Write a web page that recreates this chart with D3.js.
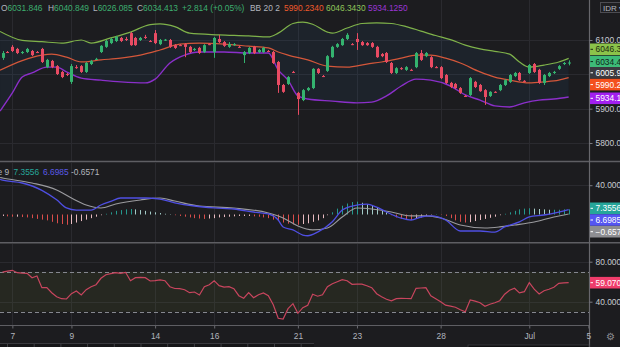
<!DOCTYPE html>
<html><head><meta charset="utf-8">
<script src="https://cdn.jsdelivr.net/npm/d3@7"></script>
<style>
html,body{margin:0;padding:0;background:#1c1c1f;overflow:hidden}
svg{display:block}
text{font-family:"Liberation Sans",Arial,sans-serif}
</style></head><body>
<svg id="c" width="620" height="347"></svg>
<script>
// ---------------- DATA ----------------
const opens = [6048,6065,6080,6074,6062,6065,6068,6065,6074,6021,
6039,6024,6007,6001,5978,6021,6024,6007,6030,6043,
6065,6080,6091,6097,6106,6103,6120,6106,6100,6109,
6097,6120,6088,6100,6100,6085,6085,6088,6080,6071,
6077,6065,6088,6065,6103,6094,6080,6085,6080,6056,
6062,6080,6065,6065,6068,6065,6036,5969,5972,6007,
5946,5925,5954,5960,6016,5995,6010,6050,6080,6085,
6103,6088,6103,6094,6091,6091,6080,6059,6062,6033,
6004,6018,6013,6013,6021,6062,6053,6050,6021,6021,
5998,5975,5972,5960,5937,5940,5978,5969,5954,5937,
5949,5954,5969,5978,5995,6004,5981,6004,6030,6013,
5975,5995,6004,6016,6030,6031.846];
const closes = [6062,6064,6068,6062,6065,6074,6056,6064,6036,6042,
6021,6001,5992,5999,6024,6020,6007,6033,6039,6045,
6083,6097,6103,6109,6097,6102,6085,6085,6106,6106,
6096,6091,6100,6101,6080,6077,6084,6080,6065,6074,
6062,6085,6087,6106,6094,6083,6088,6088,6079,6065,
6077,6062,6071,6077,6067,6033,5969,5949,5992,6006,
5928,5954,5960,6016,6004,5994,6053,6080,6088,6103,
6115,6087,6094,6085,6085,6080,6050,6053,6036,6004,
6018,6017,6021,6012,6062,6042,6062,6021,6020,5989,
5975,5963,5960,5946,5936,5989,5963,5951,5934,5949,
5948,5969,5983,5998,6004,5983,5980,6027,6007,5975,
5998,6004,6007,6024,6033,6034.413];
const highs = [6068,6068,6085,6077,6068,6077,6071,6068,6077,6045,
6042,6027,6010,6004,6030,6027,6027,6036,6042,6048,
6085,6100,6106,6112,6109,6109,6123,6109,6109,6115,
6100,6129,6103,6103,6103,6088,6088,6091,6083,6077,
6080,6088,6091,6109,6115,6097,6094,6091,6083,6068,
6080,6083,6074,6080,6071,6068,6039,5972,5995,6010,
5949,5957,5963,6018,6018,5998,6056,6083,6091,6106,
6120,6091,6120,6097,6094,6094,6083,6062,6065,6036,
6021,6021,6024,6016,6065,6071,6065,6053,6024,6024,
6001,5978,5975,5963,5940,5992,5981,5972,5957,5951,
5951,5972,5986,6001,6007,6007,5983,6030,6033,6016,
6001,6007,6010,6027,6036,6040.849];
const lows = [6042,6062,6065,6059,6059,6062,6053,6062,6033,6018,
6018,5998,5989,5995,5972,6016,6004,6004,6027,6042,
6062,6077,6088,6094,6094,6097,6083,6083,6097,6103,
6094,6088,6085,6097,6077,6074,6083,6050,6062,6068,
6059,6062,6085,6048,6091,6080,6077,6083,6077,6033,
6059,6059,6062,6062,6065,6030,5946,5946,5969,6004,
5882,5922,5951,5957,6001,5992,6007,6048,6077,6083,
6100,6085,6071,6083,6083,6077,6048,6050,6033,6001,
6001,6013,6010,6010,6018,6039,6050,6018,6018,5986,
5972,5960,5957,5943,5934,5937,5960,5949,5911,5934,
5946,5951,5966,5975,5992,5981,5978,6001,6004,5972,
5969,5992,6001,6013,6027,6026.085];

// Bollinger bands, read as [candle index, price]
const bbUpper = [[-0.5,6125],[4,6099],[8,6095],[12,6091],[16,6100],[18,6091],[22,6106],[26,6123],[30,6145],[32,6147],[35,6139],[38,6120],[44,6115],[50,6112],[54,6109],[56,6120],[59,6148],[61,6152],[63,6146],[66,6123],[67,6120],[70,6135],[73,6148],[76,6150],[79,6148],[82,6139],[85,6126],[88,6113],[91,6101],[94,6085],[97,6074],[100,6067],[103,6059],[105,6036],[107,6021],[110,6027],[113,6036],[115,6046.343]];
const bbMiddle = [[-0.5,6012],[4,6040],[8,6056],[10,6059],[13,6050],[16,6036],[20,6042],[24,6047],[28,6056],[32,6071],[36,6088],[40,6091],[45,6088],[50,6082],[54,6077],[56,6065],[58,6056],[62,6042],[66,6024],[70,6021],[74,6030],[77,6036],[81,6047],[84,6056],[87,6056],[90,6047],[93,6033],[97,6007],[100,5992],[103,5983],[107,5975],[110,5978],[113,5983],[115,5990.234]];
const bbLower = [[-0.5,5893],[2,5946],[4,5992],[6,6004],[9,6021],[11,6021],[13,6007],[16,5989],[20,5983],[24,5978],[29,5975],[31,5986],[34,6033],[37,6056],[40,6065],[45,6065],[50,6062],[54,6062],[56,6013],[58,5983],[60,5937],[62,5928],[67,5922],[72,5917],[75,5919],[78,5937],[81,5966],[84,5986],[87,5983],[91,5966],[94,5940],[97,5925],[100,5908],[103,5905],[106,5917],[109,5925],[112,5928],[115,5934.125]];

// MACD pane
const macdLine = [[-0.5,48],[0,47],[4,43],[8,33],[11,20],[13,9],[15,6],[18,6],[20,13],[22,18],[24,22.5],[29,22.5],[32,21],[35,16],[39,11.6],[43,9],[47,7.5],[51,3.4],[54,0.7],[56,-7.5],[57,-17],[59,-21],[61,-28],[62,-29],[64,-24],[67,-10],[69,6],[71,11.6],[74,14.3],[76,10],[78,3.4],[81,-5],[83,-7.5],[85,-3.4],[87,-2],[90,-7.5],[93,-22.5],[97,-22.5],[100,-24],[102,-17],[105,-10],[107,-3.4],[110,-0.7],[113,3.4],[115,6.7]];
const signalLine = [[-0.5,50.5],[0,49.8],[6,43],[11,33.4],[14,22.5],[17,13],[20,8.9],[23,14.3],[28,19.8],[32,22.5],[35,18.4],[40,11.6],[47,8.9],[54,2],[57,-4.8],[60,-15.7],[63,-21],[66,-18.4],[69,-3.4],[72,8.9],[75,7.5],[79,3.4],[83,-2],[86,-2],[89,-4.8],[93,-14.3],[98,-18.4],[101,-17],[104,-14.3],[108,-10.2],[112,-3.4],[115,0.7]];
const histogram = [-2,-2.5,-3,-3,-3.5,-4,-5,-6,-7,-8,
-10,-12,-13,-14,-13,-11,-9,-7,-5,-3,
-1,1,3,5,6,7,7.5,7,6,5,
4,3,2,1,0.5,-1,-2,-3,-4,-5,
-5.5,-6,-5.5,-5,-4,-3.5,-3,-2.5,-2,-2,
-2,-2.5,-3,-4,-5,-7,-9,-11,-12.5,-13.5,
-14,-13,-12,-10,-8,-5,-1,3,8,12,
15,17,17.5,16,14,12,9,6,3,-1,
-4,-6,-7,-7.5,-6,-4,-2,-0.5,0.5,-0.5,
-2,-5,-8,-10,-11,-10.5,-9,-7.5,-6,-4.5,
-3,-1,1,3,5,7,8,8.5,8,7.5,
7,6.5,6.5,6.5,7,7];
const macdLegend = ["7.3556","6.6985","-0.6571"];

// RSI pane
const rsi = [69.5,70.5,71.4,69,68.6,68.4,64,65.7,54,54,
49,45,43,42.7,48,50.7,46.7,52,55,57,
63.4,67,68,69,68.4,69.4,61,64,64.4,64,
60.7,61,61.8,61,55,53.2,53,52,49,49.7,
46.7,55,57,61,56,54.6,55,53,46,43.5,
49,44,47,48.7,46,37,23.4,22.7,33,38,
28.4,34,36.5,47.4,45.5,47,55,58,60,62,
61,57.4,57.6,57.5,56,54,48,45,42.5,40.8,
43,43.4,43.2,43,53.4,53.7,54,46,43,40,
36.5,35.5,34.5,32,30,41.7,40.5,39,35.5,37.5,
39,41,47.5,51.5,53.4,48.8,50,59,52.5,47.8,
51,52.5,54.5,58.4,58.8,59.0702];
const rsiBands = [70,30];

// axes
const tickIndex = [2,14,31,43,60,72,89,107,119];
const tickLabels = ["7","9","14","16","21","23","28","Jul","5"];
const priceTicks = [5800,5900,6000,6100];
const priceTickLabels = [5800,5900,6100];   // 6000.00 is hidden under the price tags
const macdTicks = [40];
const rsiTicks = [40,80];
const headerChange = "+2.814 (+0.05%)";
const bbTitle = "BB 20 2";
const currentPrice = 6005.95;

// ---------------- DRAW ----------------
const W=620,H=347,AXX=589.5;
const UP="#34b36f", DOWN="#e84b63", TXT="#b2b5be", GRID="#2a2a2f", SEP="#5e5e63";
const svg=d3.select("#c");
svg.append("rect").attr("width",W).attr("height",H).attr("fill","#1c1c1f");

const x=d3.scaleLinear().domain([0,117]).range([2.5,578.5]);
const yP=d3.scaleLinear().domain([5800,6100]).range([143,40]);
const yM=d3.scaleLinear().domain([0,40]).range([214.5,185.2]);
const yR=d3.scaleLinear().domain([40,80]).range([301.7,261.7]);
const cx=i=>Math.round(x(i))+0.5;

const defs=svg.append("defs");
[["cMain",0,0,589,161],["cMacd",0,162,589,80],["cRsi",0,244,589,81]].forEach(([id,a,b,w,h])=>{
  defs.append("clipPath").attr("id",id).append("rect").attr("x",a).attr("y",b).attr("width",w).attr("height",h);
});

// grid
const grid=svg.append("g").attr("stroke",GRID).attr("stroke-width",1);
tickIndex.slice(0,-1).forEach(t=>{
  [[0,161],[163,242],[244,325]].forEach(([a,b])=>grid.append("line").attr("x1",cx(t)).attr("x2",cx(t)).attr("y1",a).attr("y2",b));
});
priceTicks.forEach(t=>grid.append("line").attr("x1",0).attr("x2",AXX).attr("y1",Math.round(yP(t))+0.5).attr("y2",Math.round(yP(t))+0.5));
macdTicks.forEach(t=>grid.append("line").attr("x1",0).attr("x2",AXX).attr("y1",Math.round(yM(t))+0.5).attr("y2",Math.round(yM(t))+0.5));
rsiTicks.forEach(t=>grid.append("line").attr("x1",0).attr("x2",AXX).attr("y1",Math.round(yR(t))+0.5).attr("y2",Math.round(yR(t))+0.5));

// ---- main pane
const gMain=svg.append("g").attr("clip-path","url(#cMain)");
const lineP=d3.line().x(d=>x(d[0])).y(d=>yP(d[1])).curve(d3.curveMonotoneX);
const upPts=bbUpper.map(d=>[x(d[0]),yP(d[1])]);
const loPts=bbLower.map(d=>[x(d[0]),yP(d[1])]).reverse();
const pathUp=d3.line().curve(d3.curveMonotoneX)(upPts);
const pathLo=d3.line().curve(d3.curveMonotoneX)(loPts);
gMain.append("path").attr("d",pathUp+"L"+pathLo.slice(1)+"Z").attr("fill","rgba(40,130,210,0.07)");
gMain.append("path").attr("d",lineP(bbUpper)).attr("fill","none").attr("stroke","#7fb24a").attr("stroke-width",1.2);
gMain.append("path").attr("d",lineP(bbLower)).attr("fill","none").attr("stroke","#8b2fc9").attr("stroke-width",1.4);
gMain.append("path").attr("d",lineP(bbMiddle)).attr("fill","none").attr("stroke","#d4573a").attr("stroke-width",1.2);
const cg=gMain.append("g");
opens.forEach((o,i)=>{
  const c=closes[i], col=c>=o?UP:DOWN, xx=cx(i);
  cg.append("line").attr("x1",xx).attr("x2",xx).attr("y1",yP(highs[i])).attr("y2",yP(lows[i])).attr("stroke",col).attr("stroke-width",1);
  const top=yP(Math.max(o,c)), bot=yP(Math.min(o,c));
  cg.append("rect").attr("x",xx-1.5).attr("width",3).attr("y",top).attr("height",Math.max(1,bot-top)).attr("fill",col);
});

// ---- MACD pane
const gM=svg.append("g").attr("clip-path","url(#cMacd)");
histogram.forEach((v,i)=>{
  const p=i>0?histogram[i-1]:v;
  const col=v>=0?(v>=p?"#26a69a":"#b2dfdb"):(v<p?"#ef5350":"#ffcdd2");
  gM.append("line").attr("x1",cx(i)).attr("x2",cx(i)).attr("y1",yM(0)).attr("y2",yM(v)).attr("stroke",col).attr("stroke-width",1).attr("opacity",0.9);
});
const lineM=d3.line().x(d=>x(d[0])).y(d=>yM(d[1])).curve(d3.curveMonotoneX);
gM.append("path").attr("d",lineM(signalLine)).attr("fill","none").attr("stroke","#9a9a9e").attr("stroke-width",1.2);
gM.append("path").attr("d",lineM(macdLine)).attr("fill","none").attr("stroke","#4f4fe3").attr("stroke-width",1.3);

// ---- RSI pane
const gR=svg.append("g").attr("clip-path","url(#cRsi)");
gR.append("rect").attr("x",0).attr("width",AXX).attr("y",yR(rsiBands[0])).attr("height",yR(rsiBands[1])-yR(rsiBands[0])).attr("fill","rgba(125,150,60,0.1)");
rsiBands.forEach(b=>gR.append("line").attr("x1",0).attr("x2",AXX).attr("y1",Math.round(yR(b))+0.5).attr("y2",Math.round(yR(b))+0.5).attr("stroke","#85878f").attr("stroke-dasharray","4,3").attr("stroke-width",1));
gR.append("path").attr("d",d3.line().x((d,i)=>x(i)).y(d=>yR(d))(rsi)).attr("fill","none").attr("stroke","#c8455e").attr("stroke-width",1.2);

// ---- separators
const sep=svg.append("g").attr("stroke",SEP);
sep.append("line").attr("x1",0).attr("x2",W).attr("y1",161.5).attr("y2",161.5).attr("stroke-width",1.5);
sep.append("line").attr("x1",0).attr("x2",W).attr("y1",242.8).attr("y2",242.8).attr("stroke-width",1.5);
sep.append("line").attr("x1",0).attr("x2",AXX).attr("y1",325.5).attr("y2",325.5).attr("stroke-width",1.2);
sep.append("line").attr("x1",AXX).attr("x2",AXX).attr("y1",0).attr("y2",H).attr("stroke-width",1.2).attr("stroke","#67676c");

// ---- axes
const FS="8.4px";
function styleAxis(g){g.select(".domain").remove();g.selectAll(".tick line").attr("stroke","#7a7a80");g.selectAll(".tick text").attr("fill","#c9cbd1").attr("font-size",FS).attr("font-family","Liberation Sans, Arial, sans-serif");}
svg.append("g").attr("transform",`translate(${AXX},0)`).call(d3.axisRight(yP).tickValues(priceTickLabels).tickSize(3).tickPadding(3).tickFormat(d3.format(".2f"))).call(styleAxis);
svg.append("g").attr("transform",`translate(${AXX},0)`).call(d3.axisRight(yM).tickValues(macdTicks).tickSize(3).tickPadding(3).tickFormat(d3.format(".4f"))).call(styleAxis);
svg.append("g").attr("transform",`translate(${AXX},0)`).call(d3.axisRight(yR).tickValues(rsiTicks).tickSize(3).tickPadding(3).tickFormat(d3.format(".4f"))).call(styleAxis);
const tAx=svg.append("g").attr("transform","translate(0,326)").call(d3.axisBottom(x).tickValues(tickIndex).tickSize(2.5).tickPadding(5).tickFormat((d,i)=>tickLabels[i]));
tAx.select(".domain").remove();
tAx.selectAll(".tick line").attr("stroke","#6a6a70");
tAx.selectAll("text").attr("fill",TXT).attr("font-size",FS).attr("font-family","Liberation Sans, Arial, sans-serif");

// ---- price tags on the scale (layout slots avoid overlap)
const last=opens.length-1;
const priceLabels=[
  {v:bbUpper[bbUpper.length-1][1],f:".2f",bg:"#8bc34a",fg:"#1d2b10",y:49.3},
  {v:closes[last],f:".2f",bg:"#3dbb78",fg:"#10261a",y:61.6},
  {v:currentPrice,f:".2f",bg:"#3a3a3f",fg:"#ffffff",y:72.8},
  {v:bbMiddle[bbMiddle.length-1][1],f:".2f",bg:"#f4511e",fg:"#ffffff",y:84.6},
  {v:bbLower[bbLower.length-1][1],f:".2f",bg:"#a21ff0",fg:"#ffffff",y:98.3},
  {v:+macdLegend[0],f:".4f",bg:"#26a69a",fg:"#ffffff",y:208.3},
  {v:+macdLegend[1],f:".4f",bg:"#5555f2",fg:"#ffffff",y:220},
  {v:+macdLegend[2],f:".4f",bg:"#8e8e92",fg:"#ffffff",y:231.7},
  {v:rsi[last],f:".4f",bg:"#ef3d6b",fg:"#ffffff",y:282.7}
];
priceLabels.forEach(l=>{
  svg.append("rect").attr("x",AXX+0.5).attr("y",l.y-5.8).attr("width",32).attr("height",11.6).attr("fill",l.bg);
  svg.append("line").attr("x1",AXX+1).attr("x2",AXX+3.5).attr("y1",l.y).attr("y2",l.y).attr("stroke",l.fg).attr("stroke-width",1);
  svg.append("text").attr("x",AXX+6).attr("y",l.y+3).attr("fill",l.fg).attr("font-size",FS).text(d3.format(l.f)(l.v));
});

// ---- header legend
const GREEN="#3dae6f";
const hdr=[["O",opens[last]],["H",highs[last]],["L",lows[last]],["C",closes[last]]];
const hx=[1,48,93,137];
hdr.forEach(([k,v],i)=>{
  const t=svg.append("text").attr("x",hx[i]).attr("y",10.5).attr("font-size",FS);
  t.append("tspan").attr("fill",TXT).text(k);
  t.append("tspan").attr("fill",GREEN).text(d3.format(".3f")(v));
});
svg.append("text").attr("x",182).attr("y",10.5).attr("font-size",FS).attr("fill",GREEN).text(headerChange);
svg.append("text").attr("x",250).attr("y",10.5).attr("font-size",FS).attr("fill",TXT).text(bbTitle);
[[284,bbMiddle,"#ef5a2c"],[326,bbUpper,"#8fc45a"],[368,bbLower,"#9b35d6"]].forEach(([xx,arr,col])=>{
  svg.append("text").attr("x",xx).attr("y",10.5).attr("font-size",FS).attr("fill",col).text(d3.format(".4f")(arr[arr.length-1][1]));
});

// ---- MACD legend
svg.append("text").attr("x",-2.5).attr("y",174.5).attr("font-size",FS).attr("fill",TXT).text("e 9");
svg.append("text").attr("x",13.5).attr("y",174.5).attr("font-size",FS).attr("fill","#26a69a").text(macdLegend[0]);
svg.append("text").attr("x",43).attr("y",174.5).attr("font-size",FS).attr("fill","#5a5ae6").text(macdLegend[1]);
svg.append("text").attr("x",71).attr("y",174.5).attr("font-size",FS).attr("fill",TXT).text(macdLegend[2]);

// ---- currency box + gear
svg.append("rect").attr("x",600.5).attr("y",2.5).attr("width",30).attr("height",10).attr("fill","#1f1f22").attr("stroke","#4c4c52");
svg.append("text").attr("x",603).attr("y",10.5).attr("font-size","8px").attr("fill",TXT).text("IDR ▾");
svg.append("text").attr("x",610).attr("y",339.5).attr("text-anchor","middle").attr("font-size","10px").attr("font-family","DejaVu Sans").attr("fill","#8e8e94").text("⚙");

// ---- bottom tab strip (partly visible UI below the chart)
const strip=svg.append("g");
strip.append("rect").attr("x",0).attr("y",343).attr("width",314).attr("height",5).attr("fill","#161618");
d3.range(0,12).forEach(k=>strip.append("line").attr("x1",7.5+k*26.7).attr("x2",7.5+k*26.7).attr("y1",343).attr("y2",347).attr("stroke","#3e3e43"));
strip.append("line").attr("x1",0).attr("x2",314).attr("y1",343.5).attr("y2",343.5).attr("stroke","#3a3a3f");
strip.append("rect").attr("x",468).attr("y",345).attr("width",121).attr("height",3).attr("fill","#0e0e10").attr("stroke","#3a3a3f").attr("stroke-width",0.8);
</script>
</body></html>
